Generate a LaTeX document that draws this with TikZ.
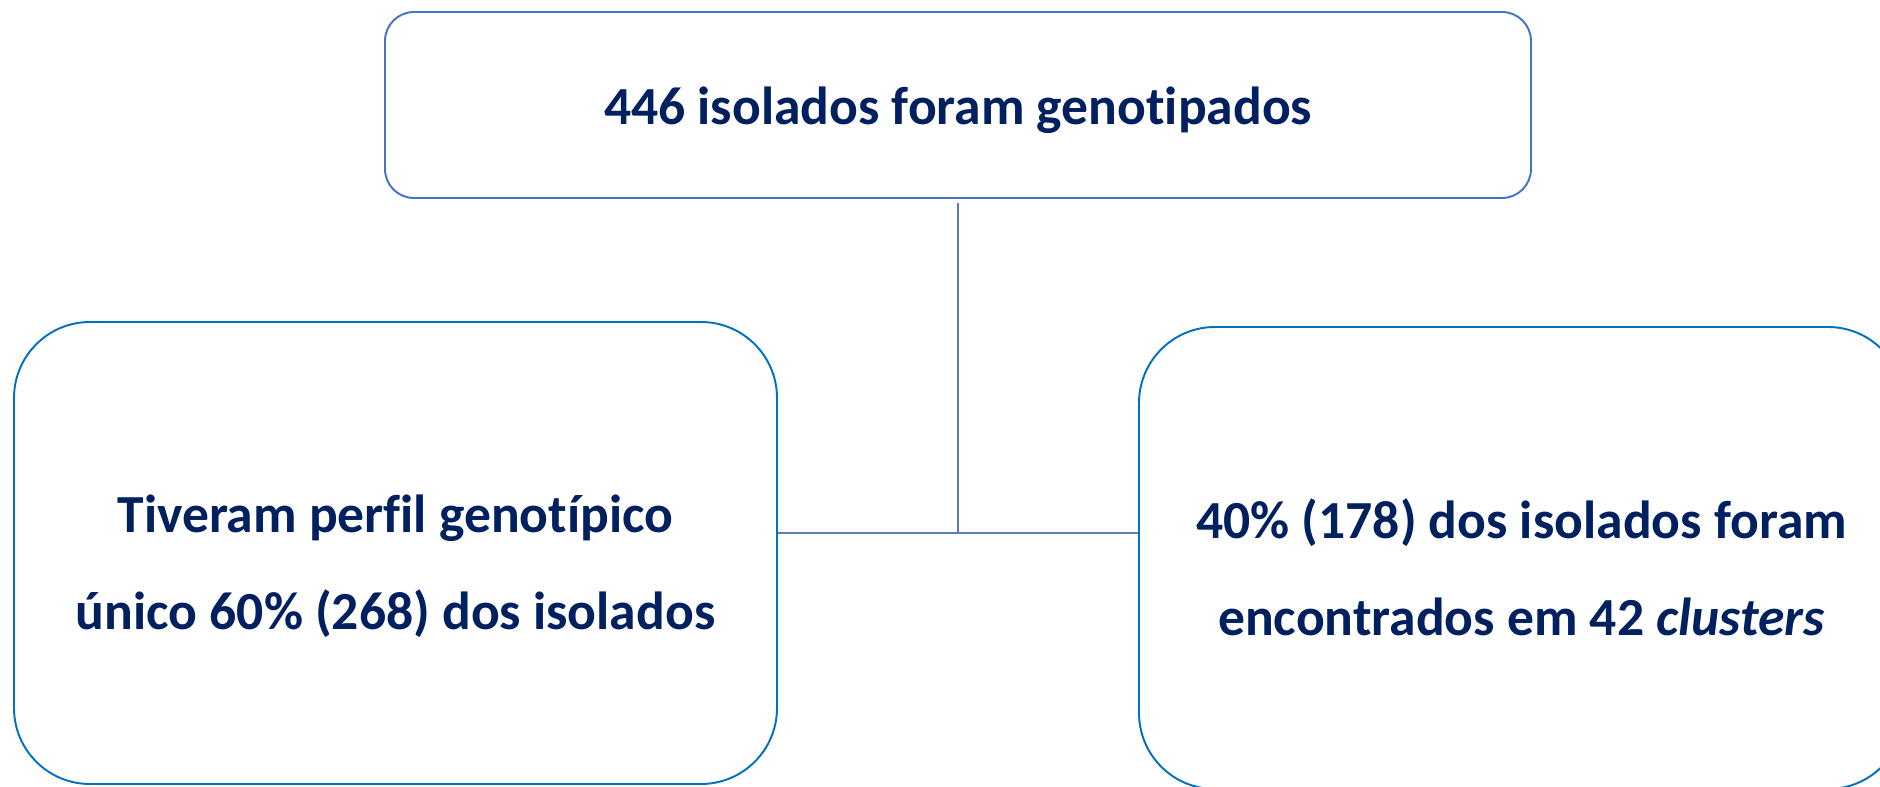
\documentclass[tikz,border=0pt]{standalone}
\usepackage{fontspec}
\setmainfont[Ligatures=CommonOff]{Carlito}
\usepackage{xcolor}
\usetikzlibrary{positioning, calc}
\definecolor{topblue}{RGB}{68, 114, 196}
\definecolor{boxblue}{RGB}{0, 112, 192}
\definecolor{linkblue}{RGB}{90, 125, 190}
\definecolor{inkblue}{RGB}{0, 32, 96}
\tikzset{
  panel/.style={rounded corners=#1, draw, line width=1.1pt, fill=white,
                inner sep=0pt},
  lbl/.style={align=center, text=inkblue, inner sep=0pt,
              font=\fontsize{30.5}{55}\selectfont\bfseries},
  link/.style={draw=linkblue, line width=0.8pt},
}

\begin{document}
\begin{tikzpicture}
  \useasboundingbox (0,0) rectangle (37.6,15.72);

  % ---- top box ----
  \node[panel=0.58cm, draw=topblue, minimum width=22.92cm, minimum height=3.72cm]
    (total) at (19.16,13.62) {};
  \node[lbl] (totaltxt) at ([yshift=-0.1cm]total.center)
    {446 isolados foram genotipados};

  % ---- bottom boxes ----
  \node[panel=1.52cm, draw=boxblue, minimum width=15.26cm, minimum height=9.24cm]
    (unico) at (7.91,4.66) {};
  \node[lbl] (unicotxt) at ([yshift=-0.27cm]unico.center)
    {Tiveram perfil genotípico\\único 60\% (268) dos isolados};
  \node[panel=1.52cm, draw=boxblue, minimum width=15.3cm, minimum height=9.24cm]
    (cluster) at (30.43,4.56) {};
  \node[lbl] (clustertxt) at ([yshift=-0.18cm]cluster.center)
    {40\% (178) dos isolados foram\\encontrados em 42 \textit{clusters}};

  % connectors
  \coordinate (jn) at (19.16,5.06);
  \draw[link] (total.south) ++(0,-0.08) -- (jn);
  \draw[link] (unico.east |- jn) -- (cluster.west |- jn);
\end{tikzpicture}
\end{document}
